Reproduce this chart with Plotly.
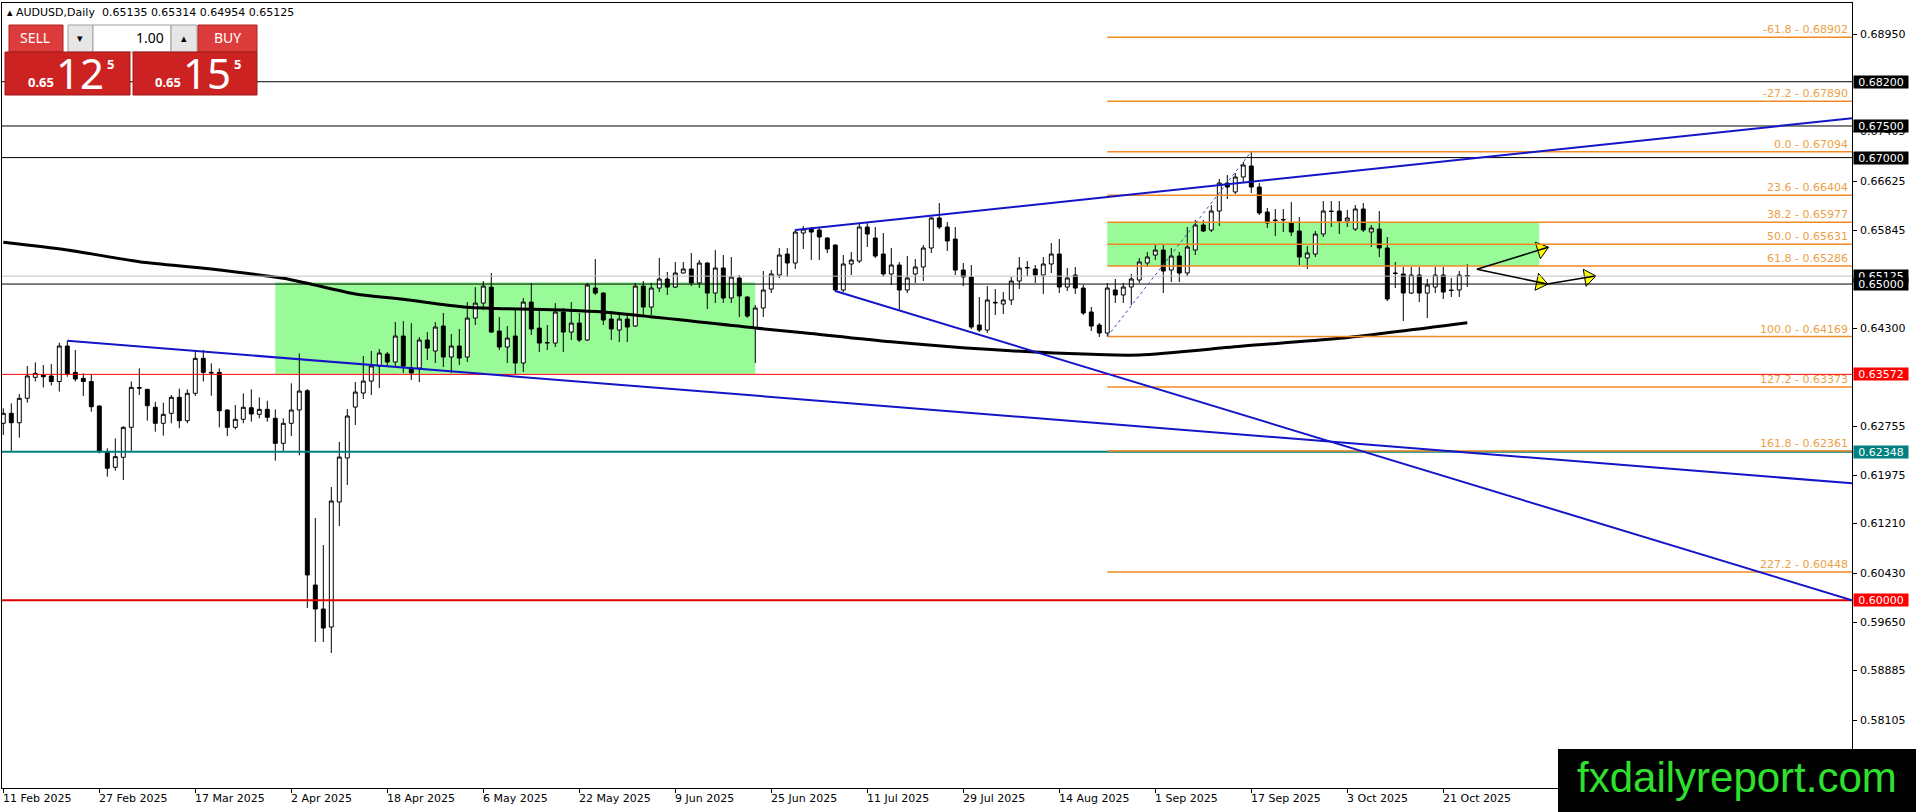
import math
import pandas as pd
import plotly.graph_objects as go

# daily bars, AUDUSD
dates = pd.bdate_range("2025-02-11", periods=184)
bars = list(range(len(dates)))

opens = [
    0.62798, 0.62956, 0.62807, 0.63193, 0.63525, 0.63561, 0.63546, 0.63459, 0.64020, 0.63604,
    0.63509, 0.63459, 0.63071, 0.62349, 0.62102, 0.62260, 0.62734, 0.63364, 0.63335, 0.63051,
    0.62798, 0.62956, 0.63209, 0.62839, 0.63272, 0.63825, 0.63604, 0.63604, 0.63008, 0.62734,
    0.62861, 0.63044, 0.62940, 0.63019, 0.62877, 0.62481, 0.62798, 0.63008, 0.63313, 0.60240,
    0.59861, 0.59576, 0.61553, 0.62249, 0.63055, 0.63277, 0.63466, 0.63704, 0.63893, 0.63767,
    0.64178, 0.63672, 0.63672, 0.64115, 0.63941, 0.64336, 0.63846, 0.64020, 0.63846, 0.64462,
    0.64699, 0.64952, 0.64257, 0.64004, 0.64178, 0.63751, 0.64715, 0.64304, 0.64067, 0.64067,
    0.64557, 0.64241, 0.64383, 0.64115, 0.64937, 0.64858, 0.64447, 0.64273, 0.64447, 0.64336,
    0.64968, 0.64636, 0.64937, 0.65080, 0.64952, 0.65175, 0.65238, 0.65017, 0.65333, 0.64858,
    0.65254, 0.64779, 0.65095, 0.64795, 0.64304, 0.64621, 0.64921, 0.65143, 0.65475, 0.65333,
    0.65807, 0.65870, 0.65855, 0.65728, 0.65617, 0.64906, 0.65317, 0.65364, 0.65902, 0.65728,
    0.65475, 0.65159, 0.65301, 0.64906, 0.65159, 0.65270, 0.65570, 0.66045, 0.65902, 0.65712,
    0.65222, 0.65111, 0.64352, 0.64273, 0.64700, 0.64684, 0.64748, 0.65048, 0.65254, 0.65238,
    0.65143, 0.65317, 0.65475, 0.64953, 0.65143, 0.64937, 0.64558, 0.64352, 0.64226, 0.64906,
    0.64827, 0.64953, 0.65064, 0.65333, 0.65459, 0.65538, 0.65222, 0.65443, 0.65175, 0.65538,
    0.65934, 0.65855, 0.66155, 0.66598, 0.66456, 0.66693, 0.66867, 0.66535, 0.66139, 0.66013,
    0.66013, 0.65966, 0.65839, 0.65412, 0.65475, 0.65791, 0.66155, 0.66155, 0.65997, 0.65870,
    0.66187, 0.65823, 0.65870, 0.65570, 0.65175, 0.65159, 0.64858, 0.65143, 0.64858, 0.64953,
    0.65143, 0.64906, 0.64906, 0.65135,
]
highs = [
    0.63035, 0.63114, 0.63261, 0.63704, 0.63762, 0.63719, 0.63735, 0.64072, 0.64104, 0.63957,
    0.63588, 0.63577, 0.63085, 0.62402, 0.62560, 0.62750, 0.63459, 0.63667, 0.63340, 0.63139,
    0.63123, 0.63245, 0.63345, 0.63335, 0.63957, 0.63957, 0.63746, 0.63667, 0.63020, 0.63087,
    0.63272, 0.63335, 0.63209, 0.63155, 0.63019, 0.62877, 0.63430, 0.63904, 0.63340, 0.61300,
    0.60873, 0.61790, 0.62502, 0.63024, 0.63451, 0.63862, 0.63941, 0.63972, 0.63925, 0.64400,
    0.64415, 0.64383, 0.64162, 0.64241, 0.64399, 0.64542, 0.64210, 0.64289, 0.64715, 0.64952,
    0.65048, 0.65175, 0.64478, 0.64336, 0.64621, 0.64779, 0.65017, 0.64621, 0.64352, 0.64699,
    0.64621, 0.64715, 0.64542, 0.65017, 0.65396, 0.64870, 0.64557, 0.64542, 0.64510, 0.65017,
    0.65048, 0.65017, 0.65412, 0.65191, 0.65349, 0.65349, 0.65491, 0.65380, 0.65349, 0.65538,
    0.65459, 0.65428, 0.65143, 0.64805, 0.64668, 0.65206, 0.65222, 0.65570, 0.65570, 0.65870,
    0.65918, 0.65902, 0.65886, 0.65744, 0.65630, 0.65459, 0.65507, 0.65965, 0.65965, 0.65902,
    0.65807, 0.65570, 0.65349, 0.65443, 0.65396, 0.65617, 0.66060, 0.66282, 0.65981, 0.65902,
    0.65333, 0.65301, 0.64795, 0.64969, 0.64921, 0.64874, 0.65111, 0.65428, 0.65364, 0.65301,
    0.65428, 0.65649, 0.65712, 0.65254, 0.65270, 0.64985, 0.64637, 0.64383, 0.65017, 0.65080,
    0.65017, 0.65159, 0.65412, 0.65507, 0.65617, 0.65617, 0.65570, 0.65507, 0.65902, 0.66013,
    0.66013, 0.66250, 0.66661, 0.66724, 0.66756, 0.66930, 0.67094, 0.66598, 0.66203, 0.66187,
    0.66187, 0.66297, 0.66060, 0.65602, 0.65839, 0.66313, 0.66313, 0.66313, 0.66171, 0.66250,
    0.66282, 0.65934, 0.66155, 0.65744, 0.65349, 0.65270, 0.65270, 0.65270, 0.65080, 0.65270,
    0.65270, 0.65096, 0.65206, 0.65314,
]
lows = [
    0.62613, 0.62349, 0.62570, 0.63123, 0.63459, 0.63364, 0.63396, 0.63300, 0.63534, 0.63459,
    0.63229, 0.62981, 0.62323, 0.61954, 0.62048, 0.61901, 0.62349, 0.63245, 0.62839, 0.62665,
    0.62602, 0.62798, 0.62719, 0.62798, 0.63229, 0.63459, 0.63234, 0.62734, 0.62597, 0.62703,
    0.62798, 0.62823, 0.62877, 0.62823, 0.62207, 0.62349, 0.62597, 0.62292, 0.59877, 0.59339,
    0.59339, 0.59165, 0.61173, 0.61822, 0.62771, 0.63182, 0.63245, 0.63356, 0.63719, 0.63704,
    0.63593, 0.63482, 0.63451, 0.63799, 0.63751, 0.63688, 0.63593, 0.63719, 0.63767, 0.64352,
    0.64589, 0.64226, 0.63957, 0.63751, 0.63577, 0.63609, 0.64194, 0.63925, 0.63957, 0.64004,
    0.63925, 0.64115, 0.64083, 0.64099, 0.64827, 0.64352, 0.64115, 0.64083, 0.64083, 0.64320,
    0.64478, 0.64510, 0.64874, 0.64827, 0.64937, 0.65170, 0.64968, 0.64937, 0.64605, 0.64700,
    0.64700, 0.64700, 0.64478, 0.64463, 0.63751, 0.64478, 0.64858, 0.65096, 0.65111, 0.65238,
    0.65554, 0.65380, 0.65380, 0.65491, 0.64874, 0.64874, 0.65143, 0.65333, 0.65586, 0.65412,
    0.65111, 0.64985, 0.64589, 0.64858, 0.65017, 0.65048, 0.65491, 0.65870, 0.65523, 0.65143,
    0.64968, 0.64289, 0.64241, 0.64226, 0.64510, 0.64526, 0.64668, 0.64921, 0.65127, 0.65017,
    0.64843, 0.65175, 0.64858, 0.64890, 0.64843, 0.64510, 0.64257, 0.64162, 0.64169, 0.64700,
    0.64700, 0.64668, 0.65017, 0.65270, 0.65380, 0.64858, 0.65032, 0.65032, 0.65127, 0.65459,
    0.65823, 0.65823, 0.65918, 0.66345, 0.66424, 0.66598, 0.66440, 0.66092, 0.65886, 0.65760,
    0.65823, 0.65760, 0.65301, 0.65238, 0.65428, 0.65744, 0.65902, 0.65791, 0.65902, 0.65839,
    0.65823, 0.65586, 0.65428, 0.64732, 0.64937, 0.64416, 0.64843, 0.64716, 0.64463, 0.64858,
    0.64763, 0.64795, 0.64795, 0.64954,
]
closes = [
    0.62956, 0.62807, 0.63193, 0.63546, 0.63588, 0.63534, 0.63459, 0.64020, 0.63577, 0.63498,
    0.63459, 0.63060, 0.62349, 0.62086, 0.62270, 0.62734, 0.63366, 0.63355, 0.63076, 0.62798,
    0.62940, 0.63209, 0.62839, 0.63272, 0.63825, 0.63604, 0.63595, 0.62997, 0.62734, 0.62861,
    0.63051, 0.62945, 0.63019, 0.62893, 0.62481, 0.62798, 0.63008, 0.63308, 0.60399, 0.59861,
    0.59560, 0.61569, 0.62264, 0.62913, 0.63292, 0.63466, 0.63704, 0.63909, 0.63767, 0.64178,
    0.63704, 0.63593, 0.64115, 0.63988, 0.64320, 0.63846, 0.64020, 0.63830, 0.64462, 0.64699,
    0.64968, 0.64241, 0.64004, 0.64146, 0.63751, 0.64715, 0.64289, 0.64067, 0.64075, 0.64557,
    0.64241, 0.64383, 0.64115, 0.64985, 0.64858, 0.64431, 0.64289, 0.64447, 0.64320, 0.64968,
    0.64636, 0.64937, 0.65080, 0.64952, 0.65175, 0.65238, 0.65017, 0.65333, 0.64858, 0.65254,
    0.64779, 0.65111, 0.64811, 0.64494, 0.64621, 0.64906, 0.65159, 0.65459, 0.65333, 0.65823,
    0.65870, 0.65823, 0.65744, 0.65554, 0.64906, 0.65317, 0.65380, 0.65902, 0.65791, 0.65443,
    0.65159, 0.65301, 0.64906, 0.65096, 0.65270, 0.65570, 0.66045, 0.65902, 0.65681, 0.65222,
    0.65111, 0.64320, 0.64273, 0.64748, 0.64710, 0.64748, 0.65048, 0.65254, 0.65262, 0.65143,
    0.65317, 0.65475, 0.64953, 0.65096, 0.64937, 0.64542, 0.64336, 0.64226, 0.64937, 0.64827,
    0.64953, 0.65080, 0.65349, 0.65428, 0.65538, 0.65206, 0.65443, 0.65175, 0.65586, 0.65934,
    0.65839, 0.66155, 0.66598, 0.66535, 0.66693, 0.66883, 0.66535, 0.66124, 0.65966, 0.66005,
    0.66020, 0.65823, 0.65428, 0.65491, 0.65791, 0.66155, 0.66148, 0.65997, 0.66045, 0.66187,
    0.65855, 0.65886, 0.65570, 0.64763, 0.65168, 0.64858, 0.65143, 0.64858, 0.64985, 0.65143,
    0.64874, 0.64898, 0.65143, 0.65125,
]

# moving average, read at a few bars
ma_bars = [0, 8, 17, 26, 35, 38, 44, 50, 58, 70, 75, 94, 100, 111, 123, 136, 142, 155, 167, 183]
ma_vals = [0.65660, 0.65539, 0.65354, 0.65238, 0.65091, 0.65012, 0.64843, 0.64759, 0.64633, 0.64590,
           0.64558, 0.64305, 0.64231, 0.64088, 0.63968, 0.63889, 0.63878, 0.64020, 0.64142, 0.64389]

# fibonacci retracement
fib_ratios = [-61.8, -27.2, 0.0, 23.6, 38.2, 50.0, 61.8, 100.0, 127.2, 161.8, 227.2]
fib_prices = [0.68902, 0.67890, 0.67094, 0.66404, 0.65977, 0.65631, 0.65286, 0.64169, 0.63373, 0.62361, 0.60448]
fib_from = (138, 0.64169)
fib_to = (156, 0.67094)

# horizontal levels
level_prices = [0.68200, 0.67500, 0.67000, 0.65125, 0.65000, 0.63572, 0.62348, 0.60000]
level_colors = ["black", "black", "black", "#c0c0c0", "black", "#ff0000", "#008080", "#e00000"]
level_widths = [1, 1, 1, 1, 1, 1, 2, 2]
tag_colors = ["black", "black", "black", "black", "black", "#ff0000", "#008080", "#ff0000"]

# trend lines (bar, price) -> (bar, price)
trend_x0 = [8, 104, 99]
trend_y0 = [0.64104, 0.64890, 0.65855]
trend_x1 = [231.1, 231.1, 231.1]
trend_y1 = [0.61849, 0.60000, 0.67622]

# zones
zone_x0 = [34, 138]
zone_x1 = [94, 192]
zone_lo = [0.63580, 0.65286]
zone_hi = [0.65030, 0.65977]

# arrows
arrow_x0 = [184.2, 184.2, 193.0]
arrow_y0 = [0.65233, 0.65233, 0.65001]
arrow_x1 = [193.1, 193.0, 199.0]
arrow_y1 = [0.65581, 0.65001, 0.65127]

y_ticks = [0.68950, 0.67405, 0.66625, 0.65845, 0.64300, 0.62755, 0.61975, 0.61210, 0.60430, 0.59650, 0.58885, 0.58105]

bid, ask = 0.65125, 0.65155

W, H = 1916, 812
ML, MR, MT, MB = 2, 64, 3, 24
PW, PH = W - ML - MR, H - MT - MB
x_range = [-0.1625, 231.09]
y_range = [0.57030, 0.69445]
sx = PW / (x_range[1] - x_range[0])
sy = PH / (y_range[1] - y_range[0])


def px(x):
    return (x - ML) / PW


def py(y):
    return (H - MB - y) / PH


FONT = "DejaVu Sans"

fig = go.Figure()
fig.add_trace(go.Candlestick(
    x=bars, open=opens, high=highs, low=lows, close=closes,
    increasing=dict(line=dict(color="black", width=1), fillcolor="white"),
    decreasing=dict(line=dict(color="black", width=1), fillcolor="black"),
    showlegend=False, hoverinfo="skip"))
fig.add_trace(go.Scatter(x=ma_bars, y=ma_vals, mode="lines",
                         line=dict(color="black", width=3, shape="spline", smoothing=0.8),
                         showlegend=False, hoverinfo="skip"))

shapes = []
for x0, x1, lo, hi in zip(zone_x0, zone_x1, zone_lo, zone_hi):
    shapes.append(dict(type="rect", xref="x", yref="y", x0=x0, x1=x1, y0=lo, y1=hi,
                       fillcolor="#98fb98", line=dict(width=0), layer="below"))
for p, c, w in zip(level_prices, level_colors, level_widths):
    shapes.append(dict(type="line", xref="paper", yref="y", x0=0, x1=1, y0=p, y1=p,
                       line=dict(color=c, width=w)))
for p in fib_prices:
    shapes.append(dict(type="line", xref="x", yref="y", x0=fib_from[0], x1=240, y0=p, y1=p,
                       line=dict(color="#f08a24", width=1.5)))
shapes.append(dict(type="line", xref="x", yref="y", x0=fib_from[0], y0=fib_from[1],
                   x1=fib_to[0], y1=fib_to[1], line=dict(color="#3050c0", width=1, dash="dot")))
for x0, y0, x1, y1 in zip(trend_x0, trend_y0, trend_x1, trend_y1):
    shapes.append(dict(type="line", xref="x", yref="y", x0=x0, y0=y0, x1=x1, y1=y1,
                       line=dict(color="#1414c8", width=2)))

# arrows: black shaft, yellow head
head_x, head_y, head_a = [], [], []
for x0, y0, x1, y1 in zip(arrow_x0, arrow_y0, arrow_x1, arrow_y1):
    shapes.append(dict(type="line", xref="x", yref="y", x0=x0, y0=y0, x1=x1, y1=y1,
                       line=dict(color="black", width=1.5)))
    dx, dy = (x1 - x0) * sx, (y1 - y0) * sy
    ln = math.hypot(dx, dy)
    head_x.append(x1 - 7 * dx / ln / sx)
    head_y.append(y1 - 7 * dy / ln / sy)
    head_a.append(-math.degrees(math.atan2(dy, dx)))
fig.add_trace(go.Scatter(x=head_x, y=head_y, mode="markers",
                         marker=dict(symbol="triangle-right", size=15, angle=head_a,
                                     color="#ffff00", line=dict(color="black", width=1)),
                         showlegend=False, hoverinfo="skip"))

# one-click trading panel
panel = [
    (9, 25, 63, 52, "#dc3c3c", "#b02020"),
    (68, 25, 93, 52, "#e6e6e6", "#a0a0a0"),
    (93, 25, 171, 52, "white", "#a0a0a0"),
    (171, 25, 197, 52, "#e6e6e6", "#a0a0a0"),
    (198, 25, 257, 52, "#dc3c3c", "#b02020"),
    (5, 52, 130, 95, "#cc2222", "#a01818"),
    (133, 52, 257, 95, "#cc2222", "#a01818"),
]
for x0, y0, x1, y1, fc, lc in panel:
    shapes.append(dict(type="rect", xref="paper", yref="paper", x0=px(x0), x1=px(x1),
                       y0=py(y1), y1=py(y0), fillcolor=fc, line=dict(color=lc, width=1)))
shapes.append(dict(type="rect", xref="paper", yref="paper", x0=px(1558), x1=px(1916),
                   y0=py(812), y1=py(749), fillcolor="black", line=dict(width=0)))

ann = []
# price scale labels on the right
for p in y_ticks:
    ann.append(dict(xref="paper", yref="y", x=1, y=p, xanchor="left", yanchor="middle",
                    xshift=6, showarrow=False, text=f"{p:.5f}",
                    font=dict(family=FONT, size=11, color="black")))
for r, p in zip(fib_ratios, fib_prices):
    ann.append(dict(xref="paper", yref="y", x=1, y=p, xanchor="right", yanchor="bottom",
                    xshift=-2, yshift=-1, showarrow=False, text=f"{r:.1f} - {p:.5f}",
                    font=dict(family=FONT, size=11, color="#eb9f45")))
for p, c in zip(level_prices, tag_colors):
    ann.append(dict(xref="paper", yref="y", x=1, y=p, xanchor="left", yanchor="middle",
                    xshift=1, showarrow=False, text=f"{p:.5f}", bgcolor=c, borderpad=0,
                    width=54, height=12, align="center",
                    font=dict(family=FONT, size=11, color="white")))
for k in range(0, len(dates), 12):
    d = dates[k]
    ann.append(dict(xref="x", yref="paper", x=bars[k], y=0, xanchor="left", yanchor="top",
                    xshift=-2, yshift=-2, showarrow=False, text=f"{d.day} {d:%b %Y}",
                    font=dict(family=FONT, size=11, color="black")))
ann.append(dict(xref="paper", yref="paper", x=px(5), y=py(13), xanchor="left", yanchor="middle",
                showarrow=False,
                text=f"▴ AUDUSD,Daily  {opens[-1]:.5f} {highs[-1]:.5f} {lows[-1]:.5f} {closes[-1]:.5f}",
                font=dict(family=FONT, size=11, color="black")))


def panel_text(x, y, t, size, color="white", bold=False, anchor="center"):
    ann.append(dict(xref="paper", yref="paper", x=px(x), y=py(y), xanchor=anchor,
                    yanchor="middle", showarrow=False, text=f"<b>{t}</b>" if bold else t,
                    font=dict(family="Noto Sans", size=size, color=color)))


panel_text(35, 38, "SELL", 14)
panel_text(227, 38, "BUY", 14)
panel_text(80, 38, "▾", 11, "black")
panel_text(184, 38, "▴", 11, "black")
panel_text(166, 38, "1.00", 14, "black", anchor="right")
for off, price in ((0, bid), (127, ask)):
    s = f"{price:.5f}"
    panel_text(41 + off, 82, s[:4], 13, bold=True)
    panel_text(80 + off, 73, s[4:6], 42)
    panel_text(110 + off, 64, s[6], 13, bold=True)
ann.append(dict(xref="paper", yref="paper", x=px(1737), y=py(777), xanchor="center",
                yanchor="middle", showarrow=False, text="fxdailyreport.com",
                font=dict(family="Liberation Sans", size=42, color="#2fe02f")))

fig.update_layout(
    width=W, height=H, margin=dict(l=ML, r=MR, t=MT, b=MB),
    paper_bgcolor="white", plot_bgcolor="white", showlegend=False,
    shapes=shapes, annotations=ann,
    xaxis=dict(range=x_range, showgrid=False, zeroline=False, showline=True, mirror=True,
               linecolor="black", linewidth=1, ticks="outside", ticklen=4, tickcolor="black",
               tickvals=bars[::12], showticklabels=False, rangeslider=dict(visible=False)),
    yaxis=dict(range=y_range, side="right", showgrid=False, zeroline=False, showline=True,
               mirror=True, linecolor="black", linewidth=1, ticks="outside", ticklen=4,
               tickcolor="black", tickvals=y_ticks, showticklabels=False),
)

# the page's default body margin would push the figure 8px right and down
fig.write_html("out.html", config={"displayModeBar": False},
               post_script="document.body.style.margin = '0';")
